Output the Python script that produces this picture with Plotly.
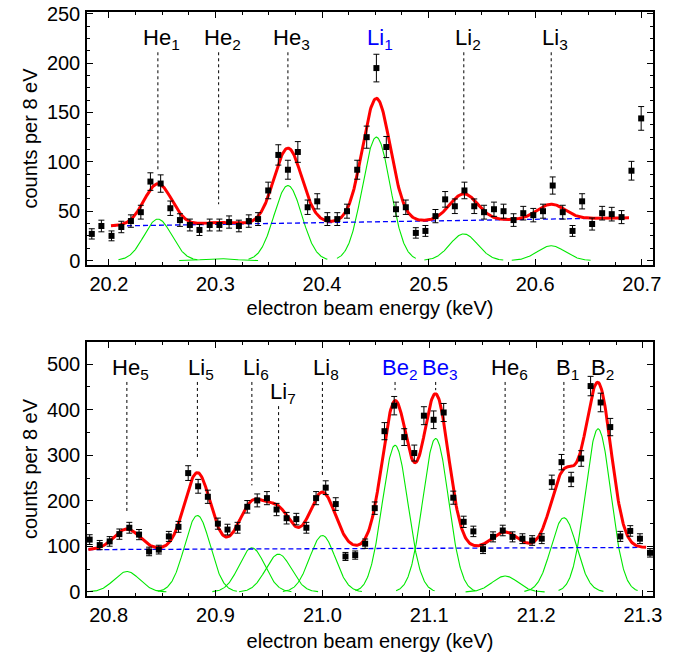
import numpy as np
import plotly.graph_objects as go

# ---------------- data: top panel ----------------
top_x = [20.184, 20.193, 20.2025, 20.2117, 20.2207, 20.230, 20.239, 20.2486, 20.2577, 20.2667,
         20.276, 20.285, 20.2946, 20.3037, 20.3128, 20.322, 20.3313, 20.340, 20.3495, 20.359,
         20.368, 20.3773, 20.3865, 20.3955, 20.405, 20.4143, 20.4234, 20.433, 20.4419, 20.451,
         20.4603, 20.4694, 20.4786, 20.488, 20.497, 20.5064, 20.5155, 20.5246, 20.5336, 20.5428,
         20.552, 20.5613, 20.5703, 20.5797, 20.5888, 20.5982, 20.6073, 20.6164, 20.6258, 20.635,
         20.644, 20.6534, 20.6628, 20.6718, 20.681, 20.6903, 20.6994]
top_counts = [27, 35, 25, 34, 40, 49, 80, 78, 53, 41,
              36, 31, 36, 36, 39, 35, 40, 42, 71, 107,
              92, 110, 54, 60, 42, 42, 50, 92, 125, 195,
              115, 52, 54, 28, 30, 45, 62, 55, 71, 55,
              49, 52, 50, 41, 48, 46, 50, 76, 49, 30,
              60, 37, 48, 47, 44, 91, 144]
top_err = [5.2, 5.9, 5.0, 5.8, 6.3, 7.0, 8.9, 8.8, 7.3, 6.4,
           6.0, 5.6, 6.0, 6.0, 6.2, 5.9, 6.3, 6.5, 8.4, 10.3,
           9.6, 10.5, 7.3, 7.7, 6.5, 6.5, 7.1, 9.6, 11.2, 14.0,
           10.7, 7.2, 7.3, 5.3, 5.5, 6.7, 7.9, 7.4, 8.4, 7.4,
           7.0, 7.2, 7.1, 6.4, 6.9, 6.8, 7.1, 8.7, 7.0, 5.5,
           7.7, 6.1, 6.9, 6.9, 6.6, 9.5, 12.0]

top_labels = ["He<sub>1</sub>", "He<sub>2</sub>", "He<sub>3</sub>",
              "Li<sub>1</sub>", "Li<sub>2</sub>", "Li<sub>3</sub>"]
top_centers = [20.246, 20.303, 20.368, 20.451, 20.533, 20.615]
top_amps = [42, 2, 76, 125, 27, 15]
top_sigmas = [0.013, 0.013, 0.013, 0.013, 0.013, 0.013]
top_fit_range = [20.202, 20.688]
top_bg = [35.0, 43.3]          # background at the two ends of the fit range

# ---------------- data: bottom panel ----------------
bot_x = [20.7822, 20.7916, 20.8009, 20.81, 20.8193, 20.8284, 20.8378, 20.8469, 20.8563, 20.8653,
         20.8744, 20.8837, 20.8928, 20.9022, 20.9112, 20.9206, 20.9297, 20.939, 20.9481, 20.9571,
         20.9665, 20.9756, 20.985, 20.9941, 21.0031, 21.0125, 21.0216, 21.0307, 21.04, 21.049,
         21.0581, 21.0672, 21.0766, 21.086, 21.095, 21.1041, 21.1135, 21.1225, 21.1322, 21.1413,
         21.1503, 21.1597, 21.1688, 21.1779, 21.1872, 21.1963, 21.2053, 21.2147, 21.2238, 21.2328,
         21.2422, 21.251, 21.2604, 21.2694, 21.2788, 21.2881, 21.2972, 21.3066]
bot_counts = [115, 103, 111, 127, 141, 126, 89, 93, 122, 143,
              261, 232, 209, 150, 137, 141, 187, 201, 206, 181,
              162, 160, 141, 206, 229, 193, 78, 81, 106, 184,
              353, 409, 340, 305, 387, 378, 394, 207, 154, 133,
              94, 121, 135, 121, 117, 113, 117, 241, 285, 247,
              293, 452, 416, 362, 122, 134, 117, 86]
bot_err = [10.7, 10.1, 10.5, 11.3, 11.9, 11.2, 9.4, 9.6, 11.0, 12.0,
           16.2, 15.2, 14.5, 12.2, 11.7, 11.9, 13.7, 14.2, 14.4, 13.5,
           12.7, 12.6, 11.9, 14.4, 15.1, 13.9, 8.8, 9.0, 10.3, 13.6,
           18.8, 20.2, 18.4, 17.5, 19.7, 19.4, 19.8, 14.4, 12.4, 11.5,
           9.7, 11.0, 11.6, 11.0, 10.8, 10.6, 10.8, 15.5, 16.9, 15.7,
           17.1, 21.3, 20.4, 19.0, 11.0, 11.6, 10.8, 9.3]

bot_labels = ["He<sub>5</sub>", "Li<sub>5</sub>", "Li<sub>6</sub>", "Li<sub>7</sub>", "Li<sub>8</sub>",
              "Be<sub>2</sub>", "Be<sub>3</sub>", "He<sub>6</sub>", "B<sub>1</sub>", "B<sub>2</sub>"]
bot_centers = [20.817, 20.883, 20.934, 20.959, 21.0, 21.068, 21.106, 21.171, 21.226, 21.258]
bot_amps = [45, 168, 97, 83, 124, 322, 337, 35, 163, 358]
bot_sigmas = [0.012, 0.012, 0.012, 0.012, 0.012, 0.012, 0.012, 0.012, 0.012, 0.012]
bot_fit_range = [20.781, 21.303]
bot_bg = [93.0, 97.8]

# ---------------- styling / layout helpers ----------------
FONT = "Liberation Sans, Arial, sans-serif"
GREEN = "#00e800"
RED = "#ff0000"
BLUE = "#0000ff"
BLUE_LABELS = {"Li<sub>1</sub>", "Be<sub>2</sub>", "Be<sub>3</sub>"}

# label placement: (label top of dotted line, bottom of dotted line) in data units
top_label_y = [211, 211, 211, 211, 211, 211]
top_line_bottom = [91.6, 57, 134, None, 90, 91.5]
bot_label_y = [461, 461, 461, 408, 461, 461, 461, 461, 461, 461]
bot_line_bottom = [176, 290, 234, 220, 253, 443, 443, 165, 307, None]


def gauss(x, c, a, s):
    return a * np.exp(-0.5 * ((x - c) / s) ** 2)


fig = go.Figure()


def add_panel(xs, ys, errs, centers, amps, sigmas, fit_range, bg, xa, ya):
    xx = np.linspace(fit_range[0], fit_range[1], 800)
    bgline = bg[0] + (bg[1] - bg[0]) * (xx - fit_range[0]) / (fit_range[1] - fit_range[0])
    # green components
    for c, a, s in zip(centers, amps, sigmas):
        gx = np.linspace(c - 0.037, c + 0.037, 200)
        fig.add_trace(go.Scatter(x=gx, y=gauss(gx, c, a, s), mode="lines",
                                 line=dict(color=GREEN, width=1.1),
                                 xaxis=xa, yaxis=ya, showlegend=False, hoverinfo="skip"))
    # background
    fig.add_trace(go.Scatter(x=xx, y=bgline, mode="lines",
                             line=dict(color=BLUE, width=1.3, dash="5px,3px"),
                             xaxis=xa, yaxis=ya, showlegend=False, hoverinfo="skip"))
    # total fit
    total = bgline.copy()
    for c, a, s in zip(centers, amps, sigmas):
        total += gauss(xx, c, a, s)
    fig.add_trace(go.Scatter(x=xx, y=total, mode="lines",
                             line=dict(color=RED, width=3),
                             xaxis=xa, yaxis=ya, showlegend=False, hoverinfo="skip"))
    # data
    fig.add_trace(go.Scatter(x=xs, y=ys, mode="markers",
                             marker=dict(symbol="square", size=6, color="black"),
                             error_y=dict(type="data", array=errs, visible=True,
                                          color="black", thickness=1, width=3),
                             xaxis=xa, yaxis=ya, showlegend=False))


add_panel(top_x, top_counts, top_err, top_centers, top_amps, top_sigmas, top_fit_range, top_bg, "x", "y")
add_panel(bot_x, bot_counts, bot_err, bot_centers, bot_amps, bot_sigmas, bot_fit_range, bot_bg, "x2", "y2")

annotations = []
shapes = []


def add_labels(labels, centers, label_y, line_bottom, xr, yr):
    for lab, c, ly, lb in zip(labels, centers, label_y, line_bottom):
        annotations.append(dict(x=c, y=ly, xref=xr, yref=yr, text=lab, showarrow=False,
                                xanchor="center", yanchor="bottom", xshift=4, yshift=-3,
                                font=dict(family=FONT, size=22,
                                          color=BLUE if lab in BLUE_LABELS else "black")))
        if lb is not None:
            shapes.append(dict(type="line", xref=xr, yref=yr, x0=c, x1=c, y0=ly, y1=lb,
                               line=dict(color="black", width=1, dash="dot")))


add_labels(top_labels, top_centers, top_label_y, top_line_bottom, "x", "y")
add_labels(bot_labels, bot_centers, bot_label_y, bot_line_bottom, "x2", "y2")

axis_common = dict(showline=True, linecolor="black", linewidth=1.5, mirror="ticks",
                   ticks="inside", ticklen=6, tickwidth=1.2, tickcolor="black",
                   showgrid=False, zeroline=False, automargin=False,
                   tickfont=dict(family=FONT, size=20, color="black"))

title_font = dict(family=FONT, size=20, color="black")

fig.update_layout(
    width=682, height=655,
    margin=dict(l=87, r=29, t=12, b=59),
    paper_bgcolor="white", plot_bgcolor="white",
    showlegend=False,
    xaxis=dict(**axis_common, anchor="y", domain=[0, 1], range=[20.1795, 20.7105],
               tickvals=[20.2, 20.3, 20.4, 20.5, 20.6, 20.7],
               ticktext=["20.2", "20.3", "20.4", "20.5", "20.6", "20.7"],
               minor=dict(ticks="inside", ticklen=3, dtick=0.025, tick0=20.2, tickcolor="black", tickwidth=1),
               ticklabelstandoff=0,
               title=dict(text="electron beam energy (keV)", font=title_font, standoff=7)),
    yaxis=dict(**axis_common, anchor="x", domain=[0.5668, 1], range=[-4.5, 251.8],
               tickvals=[0, 50, 100, 150, 200, 250],
               minor=dict(ticks="inside", ticklen=3, dtick=12.5, tick0=0, tickcolor="black", tickwidth=1),
               ticklabelstandoff=1,
               title=dict(text="counts per 8 eV", font=title_font, standoff=4)),
    xaxis2=dict(**axis_common, anchor="y2", domain=[0, 1], range=[20.7797, 21.3094],
                tickvals=[20.8, 20.9, 21.0, 21.1, 21.2, 21.3],
                ticktext=["20.8", "20.9", "21.0", "21.1", "21.2", "21.3"],
                minor=dict(ticks="inside", ticklen=3, dtick=0.025, tick0=20.8, tickcolor="black", tickwidth=1),
                ticklabelstandoff=0,
                title=dict(text="electron beam energy (keV)", font=title_font, standoff=9)),
    yaxis2=dict(**axis_common, anchor="x2", domain=[0, 0.4349], range=[-8.8, 548.7],
                tickvals=[0, 100, 200, 300, 400, 500],
                minor=dict(ticks="inside", ticklen=3, dtick=50, tick0=0, tickcolor="black", tickwidth=1),
                ticklabelstandoff=1,
                title=dict(text="counts per 8 eV", font=title_font, standoff=4)),
    annotations=annotations,
    shapes=shapes,
)

fig.write_html("out.html",
               config={"displayModeBar": False},
               post_script="document.body.style.margin='0';document.body.style.overflow='hidden';")
